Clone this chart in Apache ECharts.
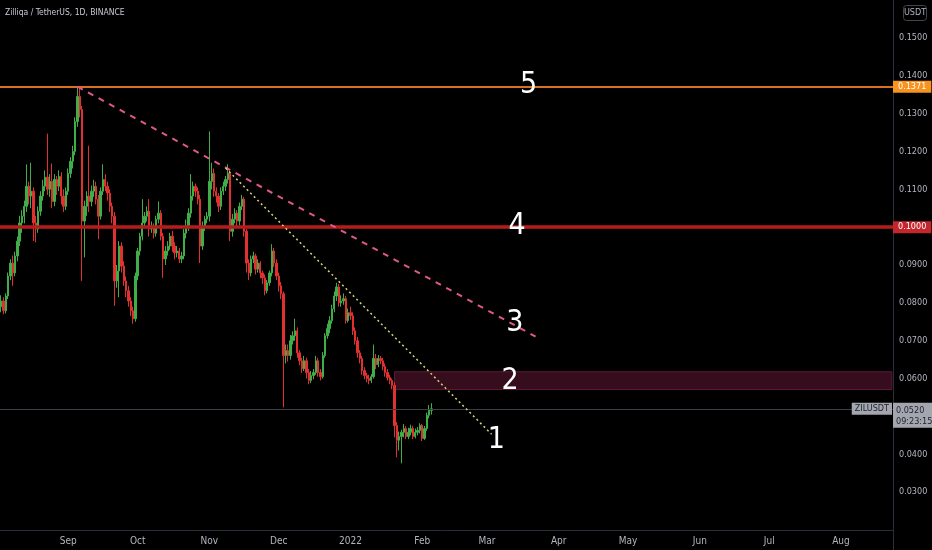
<!DOCTYPE html>
<html>
<head>
<meta charset="utf-8">
<title>ZILUSDT 1D</title>
<script src="https://cdn.jsdelivr.net/npm/echarts@6/dist/echarts.min.js"></script>
<style>
  html, body { margin: 0; padding: 0; background: #000; }
  #chart { width: 932px; height: 550px; }
</style>
</head>
<body>
<div id="chart"></div>
<script>
// 日线：从 2021-08-03 开始，共 386 个交易日（右侧留白到 2022 年 8 月）
const startDay = [2021, 7, 3]
const dayCount = 386
const monthLabels = ['2022', 'Feb', 'Mar', 'Apr', 'May', 'Jun', 'Jul', 'Aug', 'Sep', 'Oct', 'Nov', 'Dec']

// [open, close, low, high]
const candles = [
  [0.0790, 0.0805, 0.0775, 0.0820], [0.0805, 0.0779, 0.0770, 0.0815], [0.0779, 0.0818, 0.0772, 0.0825],
  [0.0818, 0.0871, 0.0810, 0.0880], [0.0871, 0.0905, 0.0860, 0.0915], [0.0905, 0.0879, 0.0845, 0.0925],
  [0.0879, 0.0924, 0.0870, 0.0935], [0.0924, 0.0963, 0.0910, 0.0975], [0.0963, 0.1011, 0.0950, 0.1030],
  [0.1011, 0.1029, 0.0985, 0.1045], [0.1029, 0.1055, 0.1010, 0.1070], [0.1055, 0.1108, 0.1040, 0.1166],
  [0.1108, 0.1082, 0.1060, 0.1120], [0.1082, 0.1095, 0.1050, 0.1170], [0.1095, 0.1011, 0.0963, 0.1105],
  [0.1011, 0.0995, 0.0960, 0.1030], [0.0995, 0.1042, 0.0985, 0.1055], [0.1042, 0.1082, 0.1030, 0.1095],
  [0.1082, 0.1108, 0.1070, 0.1125], [0.1108, 0.1132, 0.1095, 0.1150], [0.1132, 0.1100, 0.1085, 0.1247],
  [0.1100, 0.1121, 0.1080, 0.1140], [0.1121, 0.1068, 0.1050, 0.1168], [0.1068, 0.1126, 0.1055, 0.1140],
  [0.1126, 0.1108, 0.1085, 0.1135], [0.1108, 0.1134, 0.1095, 0.1150], [0.1134, 0.1082, 0.1060, 0.1145],
  [0.1082, 0.1055, 0.1040, 0.1100], [0.1055, 0.1095, 0.1045, 0.1105], [0.1095, 0.1142, 0.1085, 0.1155],
  [0.1142, 0.1174, 0.1130, 0.1185], [0.1174, 0.1200, 0.1155, 0.1215], [0.1200, 0.1279, 0.1190, 0.1290],
  [0.1279, 0.1345, 0.1265, 0.1371], [0.1345, 0.1311, 0.1290, 0.1366], [0.1311, 0.1016, 0.0858, 0.1320],
  [0.1016, 0.1055, 0.0920, 0.1070], [0.1055, 0.1082, 0.1030, 0.1095], [0.1082, 0.1068, 0.1040, 0.1215],
  [0.1068, 0.1095, 0.1055, 0.1110], [0.1095, 0.1108, 0.1080, 0.1125], [0.1108, 0.1074, 0.1060, 0.1120],
  [0.1074, 0.1029, 0.0968, 0.1085], [0.1029, 0.1095, 0.1020, 0.1105], [0.1095, 0.1126, 0.1085, 0.1166],
  [0.1126, 0.1108, 0.1095, 0.1140], [0.1108, 0.1090, 0.1070, 0.1120], [0.1090, 0.1055, 0.1040, 0.1100],
  [0.1055, 0.1029, 0.1010, 0.1065], [0.1029, 0.0858, 0.0792, 0.1040], [0.0858, 0.0884, 0.0840, 0.0900],
  [0.0884, 0.0950, 0.0815, 0.0963], [0.0950, 0.0897, 0.0880, 0.0960], [0.0897, 0.0858, 0.0845, 0.0910],
  [0.0858, 0.0832, 0.0815, 0.0870], [0.0832, 0.0805, 0.0790, 0.0845], [0.0805, 0.0779, 0.0765, 0.0815],
  [0.0779, 0.0758, 0.0745, 0.0790], [0.0758, 0.0871, 0.0750, 0.0880], [0.0871, 0.0937, 0.0860, 0.0945],
  [0.0937, 0.0976, 0.0925, 0.0985], [0.0976, 0.1011, 0.0965, 0.1074], [0.1011, 0.1029, 0.1000, 0.1040],
  [0.1029, 0.1042, 0.1015, 0.1055], [0.1042, 0.0995, 0.0975, 0.1074], [0.0995, 0.1003, 0.0985, 0.1015],
  [0.1003, 0.0984, 0.0970, 0.1010], [0.0984, 0.1021, 0.0975, 0.1030], [0.1021, 0.1037, 0.1010, 0.1068],
  [0.1037, 0.0976, 0.0965, 0.1045], [0.0976, 0.0916, 0.0866, 0.0985], [0.0916, 0.0937, 0.0900, 0.0950],
  [0.0937, 0.0950, 0.0925, 0.0963], [0.0950, 0.0976, 0.0940, 0.0985], [0.0976, 0.0950, 0.0935, 0.0990],
  [0.0950, 0.0932, 0.0915, 0.0960], [0.0932, 0.0937, 0.0920, 0.0950], [0.0937, 0.0916, 0.0905, 0.0945],
  [0.0916, 0.0924, 0.0905, 0.0935], [0.0924, 0.0984, 0.0915, 0.0995], [0.0984, 0.1003, 0.0970, 0.1020],
  [0.1003, 0.1037, 0.0990, 0.1050], [0.1037, 0.1082, 0.1025, 0.1140], [0.1082, 0.1108, 0.1070, 0.1120],
  [0.1108, 0.1095, 0.1080, 0.1115], [0.1095, 0.1074, 0.1060, 0.1105], [0.1074, 0.0950, 0.0905, 0.1085],
  [0.0950, 0.1003, 0.0940, 0.1015], [0.1003, 0.1021, 0.0990, 0.1030], [0.1021, 0.1029, 0.1010, 0.1040],
  [0.1029, 0.1121, 0.1015, 0.1253], [0.1121, 0.1142, 0.1100, 0.1170], [0.1142, 0.1095, 0.1080, 0.1155],
  [0.1095, 0.1082, 0.1065, 0.1105], [0.1082, 0.1055, 0.1040, 0.1090], [0.1055, 0.1095, 0.1045, 0.1105],
  [0.1095, 0.1108, 0.1085, 0.1120], [0.1108, 0.1126, 0.1095, 0.1135], [0.1126, 0.1142, 0.1115, 0.1166],
  [0.1142, 0.0989, 0.0963, 0.1150], [0.0989, 0.1021, 0.0975, 0.1035], [0.1021, 0.1037, 0.1010, 0.1050],
  [0.1037, 0.1016, 0.1000, 0.1045], [0.1016, 0.1055, 0.1005, 0.1065], [0.1055, 0.1074, 0.1045, 0.1085],
  [0.1074, 0.0989, 0.0975, 0.1080], [0.0989, 0.0905, 0.0880, 0.0995], [0.0905, 0.0879, 0.0860, 0.0915],
  [0.0879, 0.0916, 0.0870, 0.0925], [0.0916, 0.0924, 0.0905, 0.0935], [0.0924, 0.0889, 0.0875, 0.0930],
  [0.0889, 0.0905, 0.0880, 0.0915], [0.0905, 0.0879, 0.0865, 0.0910], [0.0879, 0.0866, 0.0850, 0.0885],
  [0.0866, 0.0832, 0.0820, 0.0875], [0.0832, 0.0853, 0.0825, 0.0860], [0.0853, 0.0879, 0.0845, 0.0885],
  [0.0879, 0.0937, 0.0870, 0.0955], [0.0937, 0.0905, 0.0895, 0.0945], [0.0905, 0.0871, 0.0860, 0.0915],
  [0.0871, 0.0845, 0.0830, 0.0880], [0.0845, 0.0824, 0.0810, 0.0855], [0.0824, 0.0661, 0.0524, 0.0830],
  [0.0661, 0.0674, 0.0640, 0.0690], [0.0674, 0.0661, 0.0645, 0.0690], [0.0661, 0.0700, 0.0650, 0.0715],
  [0.0700, 0.0713, 0.0690, 0.0725], [0.0713, 0.0726, 0.0700, 0.0758], [0.0726, 0.0668, 0.0655, 0.0735],
  [0.0668, 0.0647, 0.0635, 0.0675], [0.0647, 0.0626, 0.0615, 0.0655], [0.0626, 0.0647, 0.0620, 0.0660],
  [0.0647, 0.0616, 0.0600, 0.0655], [0.0616, 0.0595, 0.0585, 0.0625], [0.0595, 0.0608, 0.0588, 0.0620],
  [0.0608, 0.0616, 0.0598, 0.0625], [0.0616, 0.0647, 0.0610, 0.0660], [0.0647, 0.0616, 0.0605, 0.0655],
  [0.0616, 0.0605, 0.0595, 0.0625], [0.0605, 0.0661, 0.0600, 0.0670], [0.0661, 0.0713, 0.0655, 0.0720],
  [0.0713, 0.0732, 0.0705, 0.0745], [0.0732, 0.0753, 0.0720, 0.0765], [0.0753, 0.0784, 0.0745, 0.0795],
  [0.0784, 0.0818, 0.0775, 0.0830], [0.0818, 0.0842, 0.0805, 0.0853], [0.0842, 0.0800, 0.0790, 0.0850],
  [0.0800, 0.0805, 0.0790, 0.0820], [0.0805, 0.0811, 0.0795, 0.0825], [0.0811, 0.0753, 0.0745, 0.0818],
  [0.0753, 0.0774, 0.0748, 0.0785], [0.0774, 0.0766, 0.0755, 0.0790], [0.0766, 0.0726, 0.0715, 0.0775],
  [0.0726, 0.0700, 0.0690, 0.0735], [0.0700, 0.0668, 0.0655, 0.0710], [0.0668, 0.0653, 0.0640, 0.0675],
  [0.0653, 0.0621, 0.0610, 0.0660], [0.0621, 0.0608, 0.0598, 0.0630], [0.0608, 0.0600, 0.0590, 0.0615],
  [0.0600, 0.0595, 0.0585, 0.0610], [0.0595, 0.0605, 0.0588, 0.0612], [0.0605, 0.0653, 0.0600, 0.0690],
  [0.0653, 0.0637, 0.0625, 0.0665], [0.0637, 0.0653, 0.0630, 0.0662], [0.0653, 0.0647, 0.0638, 0.0660],
  [0.0647, 0.0632, 0.0622, 0.0655], [0.0632, 0.0616, 0.0605, 0.0640], [0.0616, 0.0603, 0.0595, 0.0625],
  [0.0603, 0.0595, 0.0585, 0.0610], [0.0595, 0.0582, 0.0572, 0.0600], [0.0582, 0.0476, 0.0445, 0.0590],
  [0.0476, 0.0437, 0.0392, 0.0485], [0.0437, 0.0447, 0.0410, 0.0460], [0.0447, 0.0458, 0.0376, 0.0465],
  [0.0458, 0.0468, 0.0445, 0.0480], [0.0468, 0.0447, 0.0440, 0.0475], [0.0447, 0.0458, 0.0440, 0.0470],
  [0.0458, 0.0468, 0.0450, 0.0478], [0.0468, 0.0447, 0.0440, 0.0475], [0.0447, 0.0458, 0.0442, 0.0468],
  [0.0458, 0.0463, 0.0450, 0.0472], [0.0463, 0.0476, 0.0455, 0.0482], [0.0476, 0.0442, 0.0435, 0.0480],
  [0.0442, 0.0468, 0.0438, 0.0475], [0.0468, 0.0503, 0.0462, 0.0510], [0.0503, 0.0516, 0.0495, 0.0530],
  [0.0516, 0.0520, 0.0505, 0.0535]
]

// 水平价位线
const resistanceTop = 0.1371
const resistanceMid = 0.1000
const lastPrice = 0.0520
const lastTime = '09:23:15'
const zoneBand = { from: '2022-01-20', low: 0.0571, high: 0.0618 }

// 趋势线端点 [日期, 价格]
const dashedTrend = [['2021-09-05', 0.1371], ['2022-03-22', 0.0711]]
const dottedTrend = [['2021-11-08', 0.1156], ['2022-03-03', 0.0453]]

// 图上的编号标注
const waveLabels = [
  { name: '5', date: '2022-03-19', price: 0.1376 },
  { name: '4', date: '2022-03-14', price: 0.1003 },
  { name: '3', date: '2022-03-13', price: 0.0745 },
  { name: '2', date: '2022-03-11', price: 0.0592 },
  { name: '1', date: '2022-03-05', price: 0.0437 }
]

const NARROW = "'Liberation Sans Narrow', 'DejaVu Sans Condensed', 'Roboto', sans-serif"
const AXIS_TEXT = '#b2b5be'

function pad2(n) { return n < 10 ? '0' + n : '' + n }

// 日期类目
const dates = []
for (let k = 0; k < dayCount; k++) {
  const d = new Date(Date.UTC(startDay[0], startDay[1], startDay[2] + k))
  dates.push(d.getUTCFullYear() + '-' + pad2(d.getUTCMonth() + 1) + '-' + pad2(d.getUTCDate()))
}
const lastDate = dates[dates.length - 1]

const chart = echarts.init(document.getElementById('chart'))

chart.setOption({
  backgroundColor: '#000',
  animation: false,
  title: {
    text: 'Zilliqa / TetherUS, 1D, BINANCE',
    left: 5, top: 8, padding: 0,
    textStyle: { color: '#c8cbd3', fontSize: 8.5, fontWeight: 'normal', fontFamily: NARROW }
  },
  grid: { left: 0, right: 39, top: -2, bottom: 20 },
  xAxis: {
    type: 'category',
    data: dates,
    boundaryGap: true,
    axisTick: { show: false },
    axisLine: { lineStyle: { color: '#2a2e39', width: 1 } },
    splitLine: { show: false },
    axisLabel: {
      color: AXIS_TEXT,
      fontSize: 10,
      fontFamily: NARROW,
      margin: 6,
      interval: (idx, value) => value.slice(8) === '01',
      formatter: (value) => monthLabels[parseInt(value.slice(5, 7), 10) - 1]
    }
  },
  yAxis: {
    type: 'value',
    position: 'right',
    min: 0.02, max: 0.16, interval: 0.01,
    axisLine: { show: false },
    axisTick: { show: false },
    splitLine: { show: false },
    axisLabel: {
      color: AXIS_TEXT,
      fontSize: 9,
      fontFamily: NARROW,
      margin: 6,
      showMinLabel: false,
      showMaxLabel: false,
      formatter: (v) => v.toFixed(4)
    }
  },
  graphic: [
    { type: 'line', shape: { x1: 893.5, y1: 0, x2: 893.5, y2: 550 }, style: { stroke: '#2a2e39', lineWidth: 1 }, silent: true },
    { type: 'rect', shape: { x: 903.5, y: 5.5, width: 23, height: 15, r: 3 }, style: { fill: 'none', stroke: '#434651', lineWidth: 1 }, silent: true },
    { type: 'text', x: 915, y: 13, style: { text: 'USDT', fill: AXIS_TEXT, fontSize: 9, fontFamily: NARROW, align: 'center', verticalAlign: 'middle' }, silent: true }
  ],
  series: [{
    type: 'candlestick',
    data: candles,
    barWidth: '80%',
    itemStyle: {
      color: '#3fae49', color0: '#e0302f',
      borderColor: '#3fae49', borderColor0: '#e0302f',
      borderWidth: 1
    },
    markArea: {
      silent: true,
      itemStyle: { color: '#360d1d', borderColor: '#5f1a36', borderWidth: 1 },
      data: [[
        { xAxis: zoneBand.from, yAxis: zoneBand.high },
        { xAxis: lastDate, yAxis: zoneBand.low }
      ]]
    },
    markLine: {
      silent: true,
      precision: 4,
      symbol: ['none', 'none'],
      animation: false,
      data: [
        {
          yAxis: lastPrice,
          lineStyle: { color: '#3b3f4a', width: 1, type: 'solid' },
          label: {
            show: true, position: 'end', distance: 0,
            formatter: lastPrice.toFixed(4) + '\n' + lastTime,
            backgroundColor: '#a3a6af', color: '#1e222d',
            fontSize: 9, lineHeight: 11, fontFamily: NARROW,
            padding: [2, 2, 1, 3], verticalAlign: 'top', offset: [0, -6]
          }
        },
        {
          yAxis: lastPrice,
          lineStyle: { color: '#3b3f4a', width: 1, type: 'solid' },
          label: {
            show: true, position: 'insideEnd', distance: 1,
            formatter: 'ZILUSDT',
            backgroundColor: '#a3a6af', color: '#1e222d',
            fontSize: 9, fontFamily: NARROW, padding: [2, 3, 1, 3]
          }
        },
        {
          yAxis: resistanceTop,
          lineStyle: { color: '#d9701f', width: 2, type: 'solid' },
          label: {
            show: true, position: 'end', distance: 0,
            formatter: resistanceTop.toFixed(4),
            backgroundColor: '#f7931e', color: '#fff',
            fontSize: 9, fontFamily: NARROW, padding: [2, 5, 1, 5]
          }
        },
        {
          yAxis: resistanceMid,
          lineStyle: { color: '#b71c1c', width: 3.5, type: 'solid' },
          label: {
            show: true, position: 'end', distance: 0,
            formatter: resistanceMid.toFixed(4),
            backgroundColor: '#c4262d', color: '#fff',
            fontSize: 9, fontFamily: NARROW, padding: [2, 5, 1, 5]
          }
        },
        [
          { coord: dashedTrend[0], lineStyle: { color: '#e0588a', width: 2, type: [6, 6] }, label: { show: false } },
          { coord: dashedTrend[1] }
        ],
        [
          { coord: dottedTrend[0], lineStyle: { color: '#d6d67a', width: 1.5, type: [2, 3] }, label: { show: false } },
          { coord: dottedTrend[1] }
        ]
      ]
    },
    markPoint: {
      silent: true,
      symbol: 'circle',
      symbolSize: 1,
      itemStyle: { color: 'rgba(0,0,0,0)' },
      label: {
        show: true, position: 'inside', formatter: '{b}',
        color: '#ffffff', fontSize: 30, fontFamily: NARROW
      },
      data: waveLabels.map(w => ({ name: w.name, coord: [w.date, w.price] }))
    }
  }]
})

window.addEventListener('resize', () => chart.resize())
</script>
</body>
</html>
